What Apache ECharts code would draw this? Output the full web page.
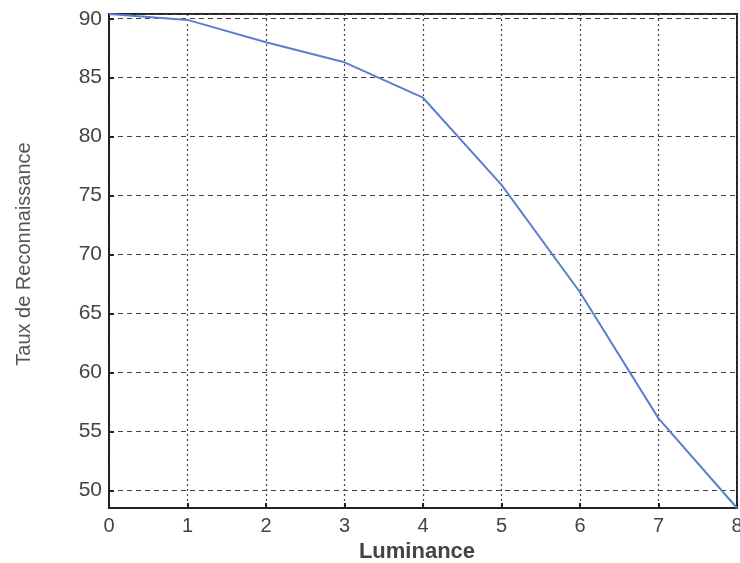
<!DOCTYPE html>
<html>
<head>
<meta charset="utf-8">
<script src="https://cdn.jsdelivr.net/npm/echarts@6/dist/echarts.min.js"></script>
<style>
  html, body { margin: 0; padding: 0; background: #fff; }
  #chart { width: 740px; height: 563px; }
</style>
</head>
<body>
<div id="chart"></div>
<script>
var luminance = [0, 1, 2, 3, 4, 5, 6, 7, 8];
var taux = [90.4, 89.9, 88.0, 86.3, 83.3, 75.9, 66.8, 56.1, 48.5];
var xTicks = ['0', '1', '2', '3', '4', '5', '6', '7', '8'];

var chart = echarts.init(document.getElementById('chart'));

var labelColor = '#444';

chart.setOption({
    animation: false,
    grid: {
        left: 109,
        right: 3,
        top: 14,
        bottom: 55,
        outerBoundsMode: 'none',
        containLabel: false,
        show: true,
        borderColor: '#222',
        borderWidth: 2
    },
    xAxis: {
        type: 'value',
        min: 0,
        max: 8,
        interval: 1,
        name: 'Luminance',
        nameLocation: 'middle',
        nameGap: 33,
        nameTextStyle: {
            color: labelColor,
            fontFamily: 'Liberation Sans',
            fontSize: 22,
            fontWeight: 'bold',
            padding: [0, 12, 0, 0]
        },
        axisLine: { lineStyle: { color: '#222', width: 2 } },
        axisTick: { inside: true, length: 5, lineStyle: { color: '#222', width: 2 } },
        axisLabel: {
            color: labelColor,
            fontFamily: 'Liberation Sans',
            fontSize: 20,
            margin: 8,
            formatter: function (v) { return xTicks[v]; }
        },
        splitLine: {
            show: true,
            lineStyle: { color: '#444', type: [2, 3], width: 1.2 }
        }
    },
    yAxis: {
        type: 'value',
        min: 48.5,
        max: 90.4,
        splitNumber: 8,
        name: 'Taux de Reconnaissance',
        nameLocation: 'middle',
        nameGap: 75,
        nameTextStyle: {
            color: '#555',
            fontFamily: 'Liberation Sans',
            fontSize: 20,
            padding: [0, 0, 0, 14]
        },
        axisLine: { lineStyle: { color: '#222', width: 2 } },
        axisTick: { inside: true, length: 5, lineStyle: { color: '#222', width: 2 } },
        axisLabel: {
            color: labelColor,
            fontFamily: 'Liberation Sans',
            fontSize: 21,
            margin: 7,
            showMinLabel: false,
            showMaxLabel: false
        },
        splitLine: {
            show: true,
            lineStyle: { color: '#444', type: [5, 4], width: 1.2 }
        }
    },
    series: [
        {
            type: 'line',
            data: luminance.map(function (x, i) { return [x, taux[i]]; }),
            showSymbol: false,
            lineStyle: { color: '#5b7fce', width: 2 }
        }
    ]
});
</script>
</body>
</html>
